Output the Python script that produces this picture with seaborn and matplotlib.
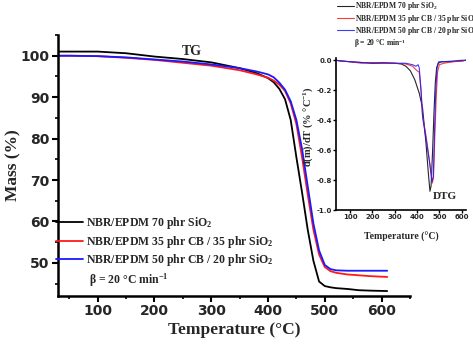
import numpy as np
import pandas as pd
import matplotlib
matplotlib.use("Agg")
import matplotlib.pyplot as plt
from matplotlib.ticker import MultipleLocator, FormatStrFormatter
import seaborn as sns

# ---- data ----
labels = ["NBR/EPDM 70 phr SiO$_2$",
          "NBR/EPDM 35 phr CB / 35 phr SiO$_2$",
          "NBR/EPDM 50 phr CB / 20 phr SiO$_2$"]
colors = ["#000000", "#ff1a1a", "#1a1aff"]

# TG curves (mass %)
tg_temp = [30, 50, 100, 150, 200, 250, 300, 350, 380, 400, 410, 420, 430,
           440, 450, 460, 470, 480, 490, 500, 510, 520, 540, 560, 580, 610]
tg_black = [101.0, 101.0, 101.0, 100.6, 99.8, 99.2, 98.4, 97.0, 95.8, 94.6, 93.6,
            92.0, 89.5, 84.5, 75.5, 67.0, 58.0, 50.5, 45.5, 44.4, 44.1, 43.9,
            43.7, 43.4, 43.3, 43.2]
tg_red = [100.0, 100.0, 99.9, 99.5, 99.0, 98.3, 97.6, 96.5, 95.5, 94.7, 94.0,
          93.0, 91.5, 88.5, 83.5, 75.5, 66.5, 58.0, 52.0, 49.0, 48.0, 47.6,
          47.2, 47.0, 46.8, 46.6]
tg_blue = [100.0, 100.0, 99.9, 99.6, 99.1, 98.6, 97.9, 97.0, 96.2, 95.5, 94.8,
           93.5, 91.8, 89.0, 84.5, 77.5, 68.5, 59.5, 53.0, 49.5, 48.5, 48.2,
           48.1, 48.1, 48.1, 48.1]

# DTG curves (% / °C)
dtg_temp_black = [35, 60, 100, 150, 200, 250, 300, 330, 350, 370, 390, 410, 425,
                  440, 450, 458, 463, 470, 476, 482, 488, 495, 510, 550, 600, 620]
dtg_black = [0.0, -0.005, -0.01, -0.015, -0.02, -0.02, -0.02, -0.025, -0.04,
             -0.07, -0.13, -0.22, -0.32, -0.55, -0.74, -0.875, -0.84, -0.6,
             -0.35, -0.15, -0.05, -0.02, -0.01, -0.01, -0.005, 0.0]
dtg_temp_red = [35, 60, 100, 150, 200, 250, 300, 350, 380, 400, 410, 418, 425,
                440, 455, 469, 474, 480, 486, 492, 500, 520, 560, 600, 620]
dtg_red = [0.0, -0.005, -0.01, -0.02, -0.015, -0.02, -0.02, -0.025, -0.04,
           -0.07, -0.08, -0.2, -0.37, -0.5, -0.66, -0.82, -0.78, -0.5, -0.25,
           -0.08, -0.03, -0.02, -0.01, -0.005, 0.0]
dtg_temp_blue = [35, 60, 100, 150, 200, 250, 300, 350, 380, 395, 405, 410, 418,
                 425, 440, 455, 467, 473, 478, 484, 490, 497, 520, 560, 600, 620]
dtg_blue = [0.0, -0.005, -0.01, -0.015, -0.02, -0.015, -0.02, -0.02, -0.03,
            -0.04, -0.03, -0.05, -0.2, -0.38, -0.52, -0.67, -0.81, -0.78, -0.5,
            -0.2, -0.05, -0.01, -0.01, -0.005, 0.0, 0.0]

tg_df = pd.concat([
    pd.DataFrame({"T": tg_temp, "val": v, "sample": lab})
    for v, lab in zip([tg_black, tg_red, tg_blue], labels)])
dtg_df = pd.concat([
    pd.DataFrame({"T": t, "val": v, "sample": lab})
    for t, v, lab in zip([dtg_temp_black, dtg_temp_red, dtg_temp_blue],
                         [dtg_black, dtg_red, dtg_blue], labels)])

sns.set_style("ticks")
plt.rcParams["font.family"] = ["DejaVu Sans"]
plt.rcParams["font.weight"] = "bold"
plt.rcParams["mathtext.fontset"] = "custom"
plt.rcParams["mathtext.rm"] = "Liberation Serif:bold"
plt.rcParams["mathtext.bf"] = "Liberation Serif:bold"
plt.rcParams["mathtext.it"] = "Liberation Serif:bold"
plt.rcParams["mathtext.default"] = "rm"
serif = "Liberation Serif"

fig = plt.figure(figsize=(4.73, 3.45), dpi=100)
ax = fig.add_axes([0.1226, 0.142, 0.744, 0.7565])

palette = dict(zip(labels, colors))
sns.lineplot(data=tg_df, x="T", y="val", hue="sample", palette=palette,
             linewidth=1.3, ax=ax, legend=False, sort=True)

ax.set_xlim(30, 650)
ax.set_ylim(42, 105)
ax.xaxis.set_major_locator(MultipleLocator(100))
ax.xaxis.set_minor_locator(MultipleLocator(50))
ax.yaxis.set_major_locator(MultipleLocator(10))
ax.yaxis.set_minor_locator(MultipleLocator(5))
ax.tick_params(which="major", direction="out", length=4, width=1.5,
               labelsize=10, pad=2, color="black")
ax.tick_params(which="minor", direction="out", length=2.5, width=1.2,
               color="black")
for lbl in ax.get_xticklabels() + ax.get_yticklabels():
    lbl.set_fontweight("bold")
for s in ["top", "right"]:
    ax.spines[s].set_visible(False)
for s in ["left", "bottom"]:
    ax.spines[s].set_linewidth(1.8)
    ax.spines[s].set_color("black")

ax.set_xlabel("Temperature (°C)", fontfamily=serif, fontweight="bold",
              fontsize=12.5)
ax.set_ylabel("Mass (%)", fontfamily=serif, fontweight="bold", fontsize=12.5)
ax.xaxis.set_label_coords(0.5, -0.1)
ax.yaxis.set_label_coords(-0.105, 0.5)

ax.text(0.38, 0.935, "TG", transform=ax.transAxes, fontfamily=serif,
        fontweight="bold", fontsize=10, ha="center", va="center")

handles = ax.get_lines()[:3]
leg = ax.legend(handles, labels, loc="upper left", bbox_to_anchor=(-0.005, 0.31),
                frameon=False, borderpad=0, borderaxespad=0, handlelength=2.3,
                handletextpad=0.25, labelspacing=0.22,
                prop={"family": serif, "weight": "bold", "size": 8.5})
ax.text(0.087, 0.062, "β = 20 °C min$^{-1}$", transform=ax.transAxes,
        fontfamily=serif, fontweight="bold", fontsize=8.5, va="center")

# ---- DTG inset ----
ins = fig.add_axes([0.7104, 0.3913, 0.275, 0.4406])
sns.lineplot(data=dtg_df, x="T", y="val", hue="sample", palette=palette,
             linewidth=0.8, ax=ins, legend=False, sort=True, alpha=0.85)
ins.set_xlim(37, 620)
ins.set_ylim(-1.0, 0.015)
ins.xaxis.set_major_locator(MultipleLocator(100))
ins.yaxis.set_major_locator(MultipleLocator(0.2))
ins.tick_params(which="major", direction="out", length=2, width=1,
                labelsize=5, pad=1, color="black")
ins.yaxis.set_major_formatter(FormatStrFormatter("%.1f"))
for s in ["top", "right"]:
    ins.spines[s].set_visible(False)
for s in ["left", "bottom"]:
    ins.spines[s].set_linewidth(1.2)
    ins.spines[s].set_color("black")
ins.set_xlabel("Temperature (°C)", fontfamily=serif, fontweight="bold",
               fontsize=7)
ins.set_ylabel("d(m)/dT (% °C$^{-1}$)", fontfamily=serif, fontweight="bold",
               fontsize=7.5)
ins.xaxis.set_label_coords(0.5, -0.145)
ins.yaxis.set_label_coords(-0.165, 0.55)
ins.text(0.93, 0.09, "DTG", transform=ins.transAxes, fontfamily=serif,
         fontweight="bold", fontsize=8, ha="right", va="center")

ihandles = ins.get_lines()[:3]
fig.legend(ihandles, labels, loc="upper left", bbox_to_anchor=(0.712, 1.0),
           frameon=False, borderpad=0, borderaxespad=0.05, handlelength=2.2,
           handletextpad=0.2, labelspacing=0.02,
           prop={"family": serif, "weight": "bold", "size": 5.5})
fig.text(0.748, 0.873, "β = 20 °C min$^{-1}$", fontfamily=serif,
         fontweight="bold", fontsize=5.5, va="center")

fig.savefig("out.png", dpi=100)
